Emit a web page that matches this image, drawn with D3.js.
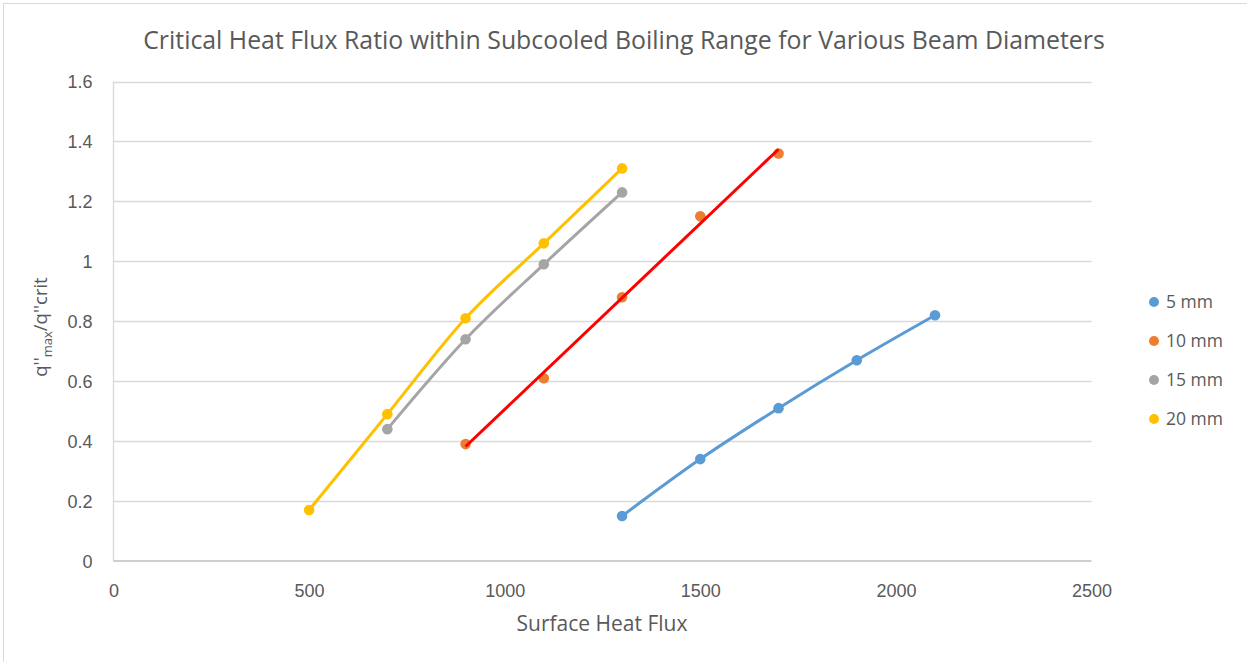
<!DOCTYPE html>
<html>
<head>
<meta charset="utf-8">
<script src="https://cdn.jsdelivr.net/npm/d3@7"></script>
<style>
  html, body { margin: 0; padding: 0; background: #fff; }
  svg { display: block; font-family: "Open Sans", "Noto Sans", sans-serif; }
</style>
</head>
<body>
<svg id="chart" width="1247" height="662"></svg>
<script>
// Surface heat flux values and CHF ratio per beam diameter
const fluxFrom500 = [500, 700, 900, 1100, 1300];
const fluxFrom700 = [700, 900, 1100, 1300];
const fluxFrom900 = [900, 1100, 1300, 1500, 1700];
const fluxFrom1300 = [1300, 1500, 1700, 1900, 2100];

const ratio5mm  = [0.15, 0.34, 0.51, 0.67, 0.82];
const ratio10mm = [0.39, 0.61, 0.88, 1.15, 1.36];
const ratio15mm = [0.44, 0.74, 0.99, 1.23];
const ratio20mm = [0.17, 0.49, 0.81, 1.06, 1.31];

const seriesNames = ["5 mm", "10 mm", "15 mm", "20 mm"];
const xTicks = [0, 500, 1000, 1500, 2000, 2500];
const yTicks = [0, 0.2, 0.4, 0.6, 0.8, 1, 1.2, 1.4, 1.6];

const colors = { "5 mm": "#5B9BD5", "10 mm": "#ED7D31", "15 mm": "#A5A5A5", "20 mm": "#FFC000" };
const trendColor = "#FF0000";
const textColor = "#595959";

const series = [
  { name: "5 mm",  xs: fluxFrom1300, ys: ratio5mm,  line: "smooth" },
  { name: "10 mm", xs: fluxFrom900,  ys: ratio10mm, line: "trend" },
  { name: "15 mm", xs: fluxFrom700,  ys: ratio15mm, line: "smooth" },
  { name: "20 mm", xs: fluxFrom500,  ys: ratio20mm, line: "smooth" }
].map(s => ({ ...s, pts: s.xs.map((x, i) => ({ x, y: s.ys[i] })) }));

const svg = d3.select("#chart");

// outer chart frame
svg.append("rect").attr("x", 3.5).attr("y", 3.5).attr("width", 1300).attr("height", 700)
  .attr("fill", "#fff").attr("stroke", "#d9d9d9").attr("stroke-width", 1);

const plot = { left: 113.5, right: 1091.5, top: 81.5, bottom: 561 };
const x = d3.scaleLinear().domain([0, 2500]).range([plot.left, plot.right]);
const y = d3.scaleLinear().domain([0, 1.6]).range([plot.bottom, plot.top]);

// horizontal gridlines
svg.append("g")
  .selectAll("line").data(yTicks.filter(t => t > 0)).join("line")
  .attr("x1", plot.left).attr("x2", plot.right)
  .attr("y1", d => Math.round(y(d)) + 0.5).attr("y2", d => Math.round(y(d)) + 0.5)
  .attr("stroke", "#d9d9d9").attr("stroke-width", 1.3);

// y axis line
svg.append("line").attr("x1", plot.left).attr("x2", plot.left)
  .attr("y1", plot.top).attr("y2", plot.bottom)
  .attr("stroke", "#d9d9d9").attr("stroke-width", 1.3);

// x axis line
svg.append("line").attr("x1", plot.left).attr("x2", plot.right)
  .attr("y1", plot.bottom).attr("y2", plot.bottom)
  .attr("stroke", "#bfbfbf").attr("stroke-width", 1.5);

// axes (labels only)
const xAxis = svg.append("g").attr("transform", `translate(0,${plot.bottom})`)
  .call(d3.axisBottom(x).tickValues(xTicks).tickSize(0).tickPadding(0).tickFormat(d3.format("d")));
xAxis.select(".domain").remove();
xAxis.selectAll("text").attr("y", 36).attr("dy", null)
  .attr("fill", textColor).style("font-size", "18px");

const yAxis = svg.append("g").attr("transform", `translate(${plot.left},0)`)
  .call(d3.axisLeft(y).tickValues(yTicks).tickSize(0).tickPadding(0).tickFormat(d => d3.format("~g")(d)));
yAxis.select(".domain").remove();
yAxis.selectAll("text").attr("x", -21).attr("dy", "0.35em")
  .attr("fill", textColor).style("font-size", "18px");

// lines
const smooth = d3.line().x(d => x(d.x)).y(d => y(d.y)).curve(d3.curveCardinal.tension(0));
const straight = d3.line().x(d => x(d.x)).y(d => y(d.y));

function linearFit(pts) {
  const mx = d3.mean(pts, d => d.x), my = d3.mean(pts, d => d.y);
  const slope = d3.sum(pts, d => (d.x - mx) * (d.y - my)) / d3.sum(pts, d => (d.x - mx) ** 2);
  const icpt = my - slope * mx;
  const [x0, x1] = d3.extent(pts, d => d.x);
  return [{ x: x0, y: icpt + slope * x0 }, { x: x1, y: icpt + slope * x1 }];
}

const order = ["5 mm", "10 mm", "15 mm", "20 mm"];
order.forEach(name => {
  const s = series.find(d => d.name === name);
  const g = svg.append("g");
  if (s.line === "smooth") {
    g.append("path").attr("d", smooth(s.pts)).attr("fill", "none")
      .attr("stroke", colors[s.name]).attr("stroke-width", 3).attr("stroke-linecap", "round");
  }
  g.selectAll("circle").data(s.pts).join("circle")
    .attr("cx", d => x(d.x)).attr("cy", d => y(d.y)).attr("r", 5.3)
    .attr("fill", colors[s.name]);
  if (s.line === "trend") {
    g.append("path").attr("d", straight(linearFit(s.pts))).attr("fill", "none")
      .attr("stroke", trendColor).attr("stroke-width", 3);
  }
});

// fit text to a target width
function fitWidth(sel, width) {
  const node = sel.node();
  const fs = parseFloat(sel.style("font-size"));
  const w = node.getComputedTextLength();
  sel.style("font-size", (fs * width / w).toFixed(2) + "px");
}

// title
const title = svg.append("text").attr("x", 624).attr("y", 49).attr("text-anchor", "middle")
  .attr("fill", textColor).style("font-size", "22px")
  .text("Critical Heat Flux Ratio within Subcooled Boiling Range for Various Beam Diameters");
fitWidth(title, 962);

// x axis title
const xt = svg.append("text").attr("x", 602).attr("y", 631).attr("text-anchor", "middle")
  .attr("fill", textColor).style("font-size", "17px").text("Surface Heat Flux");
fitWidth(xt, 171);

// y axis title with subscript
const yt = svg.append("text").attr("transform", "translate(47,327) rotate(-90)")
  .attr("text-anchor", "middle").attr("fill", textColor).style("font-size", "18.5px");
yt.append("tspan").text("q''");
yt.append("tspan").attr("dy", 5).style("font-size", "13px").text("max");
yt.append("tspan").attr("dy", -5).text("/q''crit");

// legend
const legend = svg.append("g");
const legendY = [302, 341, 380, 419];
seriesNames.forEach((name, i) => {
  legend.append("circle").attr("cx", 1154).attr("cy", legendY[i]).attr("r", 5).attr("fill", colors[name]);
  legend.append("text").attr("x", 1166).attr("y", legendY[i]).attr("dy", "0.35em")
    .attr("fill", textColor).style("font-size", "17.5px").text(name);
});
</script>
</body>
</html>
